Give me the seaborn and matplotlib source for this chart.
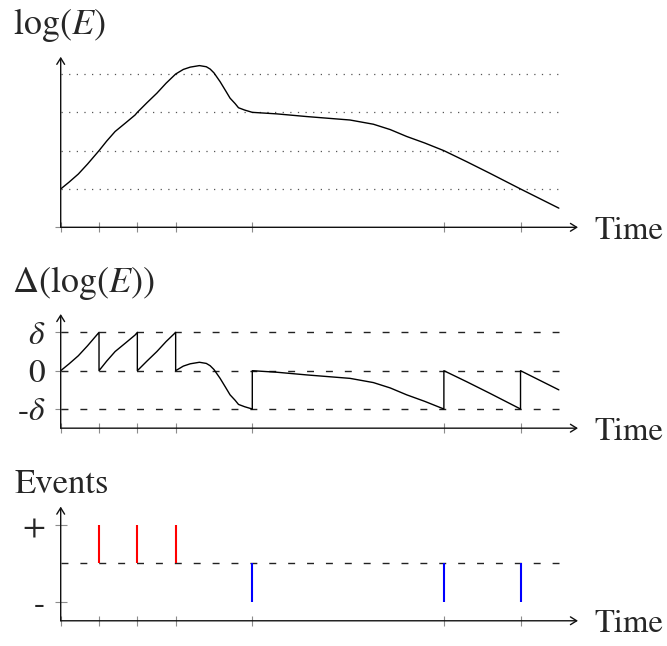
import matplotlib
matplotlib.use("Agg")
import matplotlib.pyplot as plt
import seaborn as sns

# ---------------- data ----------------
# log(E) curve
loge_t = [0, 0.22, 0.46, 0.7, 0.94, 1.0, 1.2, 1.42, 1.7, 1.94, 2.0, 2.25, 2.51, 2.75, 3.0, 3.2,
          3.38, 3.62, 3.8, 3.9, 4.0, 4.16, 4.3, 4.42, 4.55, 4.64, 4.8, 5.0, 5.64, 6.42,
          7.55, 8.16, 8.6, 9.03, 9.5, 10.0, 10.6, 11.2, 12.0, 13.0]
loge_v = [1.0, 1.18, 1.39, 1.65, 1.93, 2.0, 2.25, 2.50, 2.73, 2.93, 3.0, 3.25, 3.50, 3.76,
          4.0, 4.12, 4.18, 4.22, 4.19, 4.13, 4.03, 3.80, 3.57, 3.37, 3.23, 3.12, 3.06, 3.0,
          2.96, 2.89, 2.80, 2.69, 2.55, 2.37, 2.2, 2.0, 1.71, 1.41, 1.0, 0.5]
loge_levels = [1, 2, 3, 4]

# Delta(log(E)) curve (jumps repeated at the event times)
delta_t = [0, 0.22, 0.46, 0.7, 0.94, 1, 1, 1.2, 1.42, 1.7, 1.94, 2, 2, 2.25, 2.51, 2.75, 3,
           3, 3.2, 3.38, 3.62, 3.8, 3.9, 4.0, 4.16, 4.3, 4.42, 4.55, 4.64, 4.8, 5, 5,
           5.64, 6.42, 7.55, 8.16, 8.6, 9.03, 9.5, 10, 10, 10.6, 11.2, 12, 12, 13]
delta_v = [0, 0.18, 0.39, 0.65, 0.93, 1, 0, 0.25, 0.5, 0.73, 0.93, 1, 0, 0.25, 0.5, 0.76, 1,
           0, 0.12, 0.18, 0.22, 0.19, 0.13, 0.03, -0.2, -0.43, -0.63, -0.77, -0.88, -0.94,
           -1, 0, -0.04, -0.11, -0.2, -0.31, -0.45, -0.63, -0.8, -1, 0, -0.29, -0.59, -1,
           0, -0.5]
delta_levels = [-1, 0, 1]
delta_ticklabels = ['-$\\delta$', '0', '$\\delta$']

# events
pos_events = [1, 2, 3]
neg_events = [5, 10, 12]
event_ticks = [-1, 1]
event_ticklabels = ['-', '+']

time_ticks = [0, 1, 2, 3, 5, 10, 12]

# ---------------- style ----------------
sns.set_style("white")
plt.rcParams['font.family'] = ['STIXGeneral', 'DejaVu Serif']
plt.rcParams['mathtext.fontset'] = 'stix'
FS = 25
FS_TIME = 23.5
AXC = '#111111'
TICKC = '#8c8c8c'

W, H = 667, 646
fig = plt.figure(figsize=(W / 100, H / 100), dpi=100)
X0, X1 = 60.7, 578.0
UNIT = (X1 - X0) / 13.5


def add_panel(zero_px, ymin, ymax):
    ybot = zero_px - ymin * UNIT
    ytop = zero_px - ymax * UNIT
    ax = fig.add_axes([X0 / W, 1 - ybot / H, (X1 - X0) / W, (ybot - ytop) / H])
    ax.set_xlim(0, 13.5)
    ax.set_ylim(ymin, ymax)
    for s in ax.spines.values():
        s.set_visible(False)
    ax.patch.set_alpha(0)
    arrow = dict(arrowstyle='->,head_length=0.45,head_width=0.28', lw=1.0, color=AXC,
                 shrinkA=0, shrinkB=0, mutation_scale=10)
    ax.annotate('', xy=(1, 0), xytext=(0, 0), xycoords='axes fraction',
                arrowprops=arrow, annotation_clip=False)
    ax.annotate('', xy=(0, 1), xytext=(0, 0), xycoords='axes fraction',
                arrowprops=arrow, annotation_clip=False)
    ax.annotate('Time', xy=(1, 0), xycoords='axes fraction', xytext=(12.0, -8.3),
                textcoords='offset points', ha='left', va='baseline', fontsize=FS_TIME)
    ax.set_xticks(time_ticks)
    ax.set_xticklabels([])
    ax.tick_params(axis='x', direction='inout', length=7.5, width=0.8, color=TICKC,
                   bottom=True)
    ax.tick_params(axis='y', direction='inout', length=8.5, width=0.8, color=TICKC,
                   left=True, labelsize=FS - 1, pad=7.0)
    ax.set_xlabel('')
    ax.set_ylabel('')
    return ax


# ---- top panel: log(E)
ax1 = add_panel(227.3, 0, 4.45)
ax1.hlines(loge_levels, 0, 13, colors='#555555', linewidth=0.9,
           linestyles=[(0, (1, 5.1))])
sns.lineplot(x=loge_t, y=loge_v, sort=False, estimator=None, color='black',
             linewidth=1.0, ax=ax1)
ax1.set_yticks([0])
ax1.set_yticklabels([''])
fig.text(13 / W, 1 - 34 / H, r'$\log(E)$', fontsize=FS + 1, ha='left', va='baseline')

# ---- middle panel: Delta(log(E))
ax2 = add_panel(370.7, -1.5, 1.48)
ax2.hlines(delta_levels, 0, 13, colors='#222222', linewidth=1.0,
           linestyles=[(0, (5.0, 8.6))])
sns.lineplot(x=delta_t, y=delta_v, sort=False, estimator=None, color='black',
             linewidth=1.0, ax=ax2)
ax2.set_yticks(delta_levels)
ax2.set_yticklabels(delta_ticklabels)
fig.text(12.5 / W, 1 - 292 / H, r'$\Delta(\log(E))$', fontsize=FS + 1, ha='left',
         va='baseline')

# ---- bottom panel: events
ax3 = add_panel(563.3, -1.5, 1.48)
ax3.hlines([0], 0, 13, colors='#222222', linewidth=1.0, linestyles=[(0, (5.0, 8.6))])
ax3.vlines(pos_events, 0, 1, colors='#ff0000', linewidth=1.5)
ax3.vlines(neg_events, -1, 0, colors='#0000ff', linewidth=1.5)
ax3.set_yticks(event_ticks)
ax3.set_yticklabels(event_ticklabels)
fig.text(15 / W, 1 - 493 / H, 'Events', fontsize=FS, ha='left', va='baseline')

for ax in (ax1, ax2, ax3):
    if ax.get_legend() is not None:
        ax.get_legend().remove()

fig.savefig('out.png', dpi=100)
